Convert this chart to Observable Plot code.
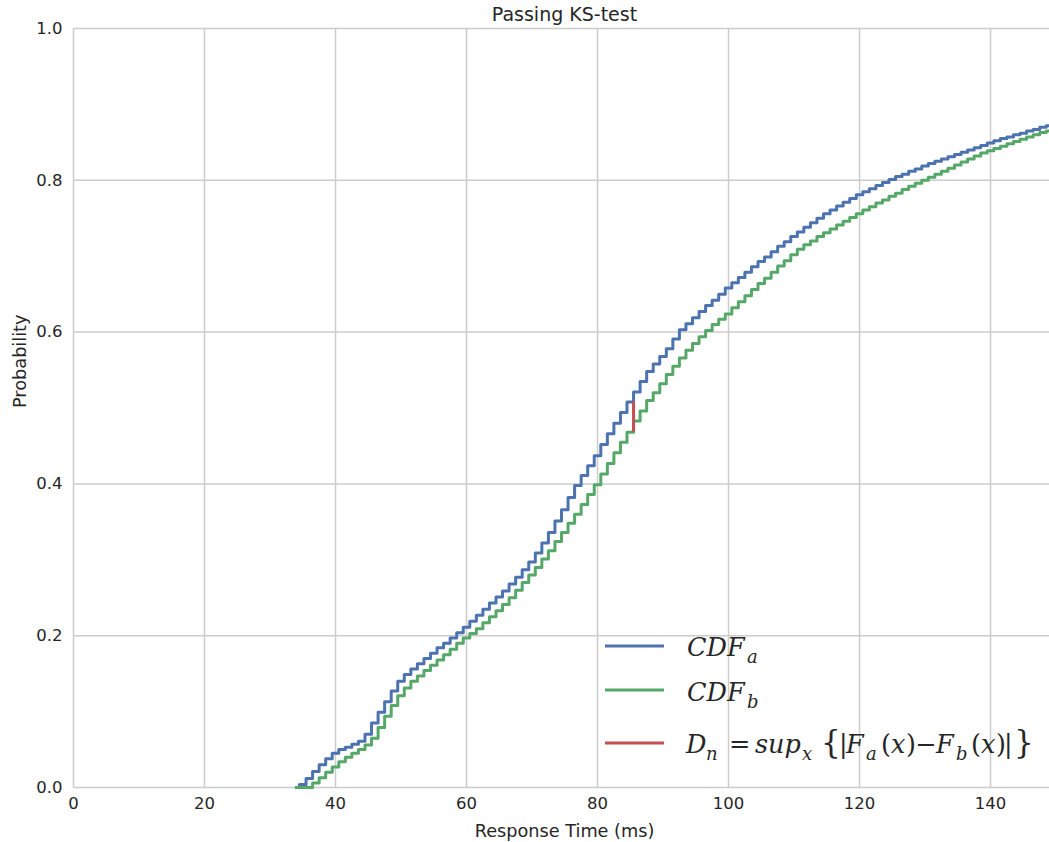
<!DOCTYPE html>
<html>
<head>
<meta charset="utf-8">
<script src="https://cdn.jsdelivr.net/npm/d3@7"></script>
<script src="https://cdn.jsdelivr.net/npm/@observablehq/plot@0.6"></script>
<style>
  html, body { margin: 0; padding: 0; background: #ffffff; }
  #chart svg { display: block; }
</style>
</head>
<body>
<div id="chart"></div>
<script>
// ---- data ----
const times = [
  34,35,36,37,38,39,40,41,42,43,
  44,45,46,47,48,49,50,51,52,53,
  54,55,56,57,58,59,60,61,62,63,
  64,65,66,67,68,69,70,71,72,73,
  74,75,76,77,78,79,80,81,82,83,
  84,85,86,87,88,89,90,91,92,93,
  94,95,96,97,98,99,100,101,102,103,
  104,105,106,107,108,109,110,111,112,113,
  114,115,116,117,118,119,120,121,122,123,
  124,125,126,127,128,129,130,131,132,133,
  134,135,136,137,138,139,140,141,142,143,
  144,145,146,147,148,149
];
const cdfA = [
  0.000,0.004,0.012,0.021,0.030,0.038,0.045,0.050,0.053,0.057,
  0.061,0.070,0.085,0.099,0.113,0.127,0.140,0.149,0.156,0.163,
  0.170,0.177,0.184,0.190,0.197,0.204,0.211,0.219,0.227,0.235,
  0.243,0.251,0.259,0.268,0.277,0.287,0.297,0.309,0.322,0.336,
  0.351,0.366,0.382,0.398,0.411,0.424,0.437,0.452,0.466,0.480,
  0.494,0.508,0.521,0.535,0.548,0.558,0.568,0.578,0.591,0.603,
  0.611,0.619,0.627,0.635,0.642,0.650,0.658,0.665,0.672,0.679,
  0.686,0.693,0.699,0.706,0.713,0.719,0.726,0.732,0.738,0.744,
  0.750,0.756,0.761,0.766,0.771,0.776,0.781,0.785,0.789,0.793,
  0.797,0.801,0.805,0.808,0.812,0.815,0.819,0.822,0.825,0.828,
  0.831,0.834,0.837,0.840,0.843,0.846,0.849,0.852,0.855,0.857,
  0.860,0.862,0.865,0.867,0.870,0.872
];
const cdfB = [
  0.000,0.000,0.000,0.006,0.013,0.020,0.027,0.034,0.040,0.045,
  0.050,0.056,0.065,0.079,0.094,0.108,0.121,0.131,0.140,0.147,
  0.154,0.161,0.168,0.175,0.182,0.190,0.197,0.203,0.209,0.217,
  0.225,0.233,0.241,0.250,0.260,0.270,0.280,0.290,0.301,0.312,
  0.324,0.336,0.348,0.360,0.373,0.386,0.399,0.413,0.427,0.441,
  0.455,0.468,0.483,0.496,0.510,0.520,0.532,0.544,0.555,0.566,
  0.576,0.585,0.594,0.602,0.610,0.617,0.624,0.632,0.640,0.648,
  0.656,0.664,0.671,0.679,0.687,0.694,0.702,0.709,0.715,0.720,
  0.726,0.731,0.736,0.741,0.746,0.751,0.756,0.761,0.765,0.770,
  0.774,0.779,0.783,0.788,0.792,0.796,0.800,0.804,0.808,0.812,
  0.816,0.820,0.824,0.828,0.832,0.836,0.839,0.842,0.845,0.848,
  0.851,0.854,0.857,0.860,0.863,0.865
];
const xTicks = [0, 20, 40, 60, 80, 100, 120, 140];
const yTicks = [0, 0.2, 0.4, 0.6, 0.8, 1.0];
const titleText = "Passing KS-test";
const xLabel = "Response Time (ms)";
const yLabel = "Probability";
const colors = ["#4c72b0", "#55a868", "#c44e52"];

// KS statistic location (max |Fa - Fb|), at the step between two samples
const diffs = times.map((t, i) => Math.abs(cdfA[i] - cdfB[i]));
const k = d3.maxIndex(diffs);
const ksRule = [{x: (times[k] + times[k + 1]) / 2, y1: cdfB[k], y2: cdfA[k]}];

const gridStyle = {stroke: "#cccccc", strokeOpacity: 1, strokeWidth: 1.5};

const chart = Plot.plot({
  width: 1049,
  height: 842,
  marginLeft: 73,
  marginRight: 0,
  marginTop: 28,
  marginBottom: 55,
  x: {domain: [0, 149]},
  y: {domain: [0, 1]},
  style: {fontFamily: "DejaVu Sans", fontSize: "16px", color: "#262626", background: "#ffffff", overflow: "visible"},
  marks: [
    Plot.gridX(xTicks, gridStyle),
    Plot.gridY(yTicks, gridStyle),
    Plot.axisX(xTicks, {tickSize: 0, tickPadding: 10, label: null, fontSize: 16.5}),
    Plot.axisY(yTicks, {tickSize: 0, tickPadding: 11, label: null, tickFormat: d3.format(".1f"), fontSize: 16.5}),
    Plot.text([xLabel], {frameAnchor: "bottom", lineAnchor: "middle", dx: 3, dy: 44, fontSize: 17.7, fill: "#262626"}),
    Plot.text([yLabel], {frameAnchor: "left", lineAnchor: "middle", dx: -53, rotate: -90, fontSize: 17.7, fill: "#262626"}),
    Plot.text([titleText], {frameAnchor: "top", lineAnchor: "middle", dx: 3, dy: -14, fontSize: 19, fill: "#262626"}),
    Plot.line(times, {x: d => d, y: (d, i) => cdfA[i], curve: "step", stroke: colors[0], strokeWidth: 3}),
    Plot.line(times, {x: d => d, y: (d, i) => cdfB[i], curve: "step", stroke: colors[1], strokeWidth: 3}),
    Plot.ruleX(ksRule, {x: "x", y1: "y1", y2: "y2", stroke: colors[2], strokeWidth: 3})
  ]
});
document.getElementById("chart").appendChild(chart);

// ---- legend (math-style labels, drawn on top of the grid, no frame) ----
const svg = d3.select(chart);
const lg = svg.append("g").attr("font-family", "DejaVu Serif").attr("fill", "#262626").attr("text-anchor", "start");
const entries = [
  {color: colors[0], y: 646, base: 656},
  {color: colors[1], y: 690, base: 701},
  {color: colors[2], y: 743, base: 753}
];
entries.forEach(e => {
  lg.append("line").attr("x1", 605).attr("x2", 664).attr("y1", e.y).attr("y2", e.y)
    .attr("stroke", e.color).attr("stroke-width", 3);
});
const big = 25.5, sub = 18, sd = 7;
function piece(text, base, x, txt, o = {}) {
  const s = text.append("tspan").attr("x", x).attr("y", base + (o.sub ? sd : 0)).text(txt);
  if (o.italic) s.attr("font-style", "italic");
  if (o.sub) s.attr("font-size", sub);
  if (o.size) s.attr("font-size", o.size);
  return s;
}
function cdfLabel(base, s) {
  const t = lg.append("text").attr("font-size", big);
  piece(t, base, 687, "CDF", {italic: true});
  piece(t, base, 747, s, {italic: true, sub: true});
}
cdfLabel(entries[0].base, "a");
cdfLabel(entries[1].base, "b");
{
  const b = entries[2].base;
  const t = lg.append("text").attr("font-size", big);
  piece(t, b, 686, "D", {italic: true});
  piece(t, b, 706, "n", {italic: true, sub: true});
  piece(t, b, 729, "=");
  piece(t, b, 755, "sup", {italic: true});
  piece(t, b, 802, "x", {italic: true, sub: true});
  piece(t, b, 821, "{", {size: 31});
  piece(t, b, 839, "|");
  piece(t, b, 846, "F", {italic: true});
  piece(t, b, 866, "a", {italic: true, sub: true});
  piece(t, b, 881, "(");
  piece(t, b, 891, "x", {italic: true});
  piece(t, b, 906, ")");
  piece(t, b, 915, "−");
  piece(t, b, 936, "F", {italic: true});
  piece(t, b, 956, "b", {italic: true, sub: true});
  piece(t, b, 971, "(");
  piece(t, b, 981, "x", {italic: true});
  piece(t, b, 996, ")");
  piece(t, b, 1004, "|");
  piece(t, b, 1014, "}", {size: 31});
}
</script>
</body>
</html>
